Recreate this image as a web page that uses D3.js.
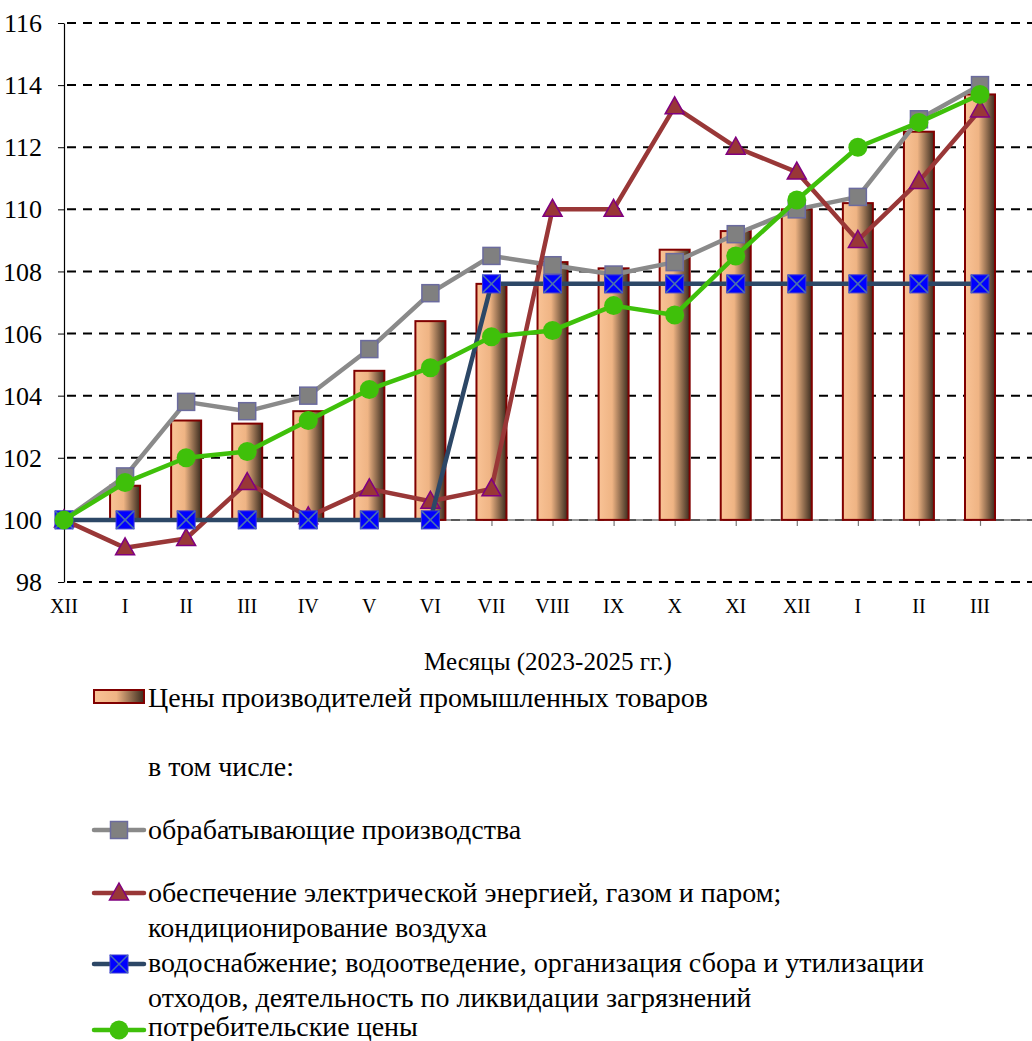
<!DOCTYPE html>
<html>
<head>
<meta charset="utf-8">
<script src="https://cdn.jsdelivr.net/npm/d3@7"></script>
<style>
  body { margin: 0; background: #fff; }
</style>
</head>
<body>
<div id="chart"></div>
<script>
let width = 1032;
let height = 1041;
let serif = "'Liberation Serif', 'Times New Roman', serif";

// months (2023-2025)
let months = ["XII", "I", "II", "III", "IV", "V", "VI", "VII", "VIII", "IX", "X", "XI", "XII", "I", "II", "III"];
let yTicks = [98, 100, 102, 104, 106, 108, 110, 112, 114, 116];

let producers = [100, 101.1, 103.2, 103.1, 103.5, 104.8, 106.4, 107.6, 108.3, 108.1, 108.7, 109.3, 110.0, 110.2, 112.5, 113.7];
let manufacturing = [100, 101.4, 103.8, 103.5, 104.0, 105.5, 107.3, 108.5, 108.2, 107.9, 108.3, 109.2, 110.0, 110.4, 112.9, 114.0];
let energy = [100, 99.1, 99.4, 101.2, 100.1, 101.0, 100.6, 101.0, 110.0, 110.0, 113.3, 112.0, 111.2, 109.0, 110.9, 113.2];
let water = [100, 100, 100, 100, 100, 100, 100, 107.6, 107.6, 107.6, 107.6, 107.6, 107.6, 107.6, 107.6, 107.6];
let consumer = [100, 101.2, 102.0, 102.2, 103.2, 104.2, 104.9, 105.9, 106.1, 106.9, 106.6, 108.5, 110.3, 112.0, 112.8, 113.7];

let svg = d3.select("#chart")
  .append("svg")
  .attr("width", width)
  .attr("height", height)
  .style("font-family", serif);

let defs = svg.append("defs");
let grad = defs.append("linearGradient").attr("id", "barGrad")
  .attr("x1", 0).attr("x2", 1).attr("y1", 0).attr("y2", 0);
grad.append("stop").attr("offset", "0%").attr("stop-color", "#f9c396");
grad.append("stop").attr("offset", "45%").attr("stop-color", "#efb484");
grad.append("stop").attr("offset", "100%").attr("stop-color", "#3a2b1e");

let x = d3.scalePoint()
  .domain(d3.range(months.length))
  .range([64, 980]);

let y = d3.scaleLinear()
  .domain([98, 116])
  .range([582, 23]);

// dashed grid
svg.append("g")
  .selectAll("line")
  .data(yTicks)
  .enter().append("line")
  .attr("x1", 64).attr("x2", width)
  .attr("y1", d => y(d)).attr("y2", d => y(d))
  .attr("stroke", "#000")
  .attr("stroke-width", 2)
  .attr("stroke-dasharray", "9,7")
  .attr("stroke-dashoffset", -3);

// y axis
let yAxis = svg.append("g")
  .attr("transform", "translate(64,0)")
  .call(d3.axisLeft(y).tickValues(yTicks).tickSize(6).tickSizeOuter(0).tickFormat(d3.format("d")));
yAxis.select(".domain").attr("stroke", "#000").attr("stroke-width", 1.2);
yAxis.selectAll(".tick line").attr("stroke", "#000");
yAxis.selectAll("text")
  .attr("x", -22)
  .attr("dy", "0.33em")
  .style("font-size", "26px")
  .style("font-family", serif)
  .attr("fill", "#000");

// x axis crossing at 100
let xAxis = svg.append("g")
  .attr("transform", `translate(0,${y(100)})`)
  .call(d3.axisBottom(x).tickSize(6).tickSizeOuter(0).tickFormat(""));
xAxis.select(".domain").attr("d", `M64,0H${width}`).attr("stroke", "#777").attr("stroke-width", 1.5);
xAxis.selectAll(".tick line").attr("stroke", "#777").attr("stroke-width", 1.2);

// x labels at the bottom
svg.append("g")
  .selectAll("text")
  .data(months)
  .enter().append("text")
  .attr("x", (d, i) => x(i))
  .attr("y", 613)
  .attr("text-anchor", "middle")
  .style("font-family", serif)
  .style("font-size", "20px")
  .text(d => d);

svg.append("text")
  .attr("x", 548).attr("y", 670)
  .attr("text-anchor", "middle")
  .style("font-family", serif)
  .style("font-size", "25px")
  .text("Месяцы (2023-2025 гг.)");

// bars
let barW = 30;
svg.append("g")
  .selectAll("rect")
  .data(producers.map((v, i) => ({ v: v, i: i })).filter(d => d.v > 100))
  .enter().append("rect")
  .attr("x", d => x(d.i) - barW / 2)
  .attr("y", d => y(d.v))
  .attr("width", barW)
  .attr("height", d => y(100) - y(d.v))
  .attr("fill", "url(#barGrad)")
  .attr("stroke", "#800000")
  .attr("stroke-width", 2);

let line = d3.line()
  .x((d, i) => x(i))
  .y(d => y(d));

function drawSeries(values, color, marker) {
  let g = svg.append("g");
  g.append("path")
    .datum(values)
    .attr("d", line)
    .attr("fill", "none")
    .attr("stroke", color)
    .attr("stroke-width", 4.5)
    .attr("stroke-linejoin", "round");
  values.forEach(function (v, i) {
    marker(g, x(i), y(v));
  });
}

function squareGrey(g, cx, cy) {
  g.append("rect")
    .attr("x", cx - 8.5).attr("y", cy - 8.5)
    .attr("width", 17).attr("height", 17)
    .attr("fill", "#808080")
    .attr("stroke", "#6b6b9e")
    .attr("stroke-width", 1.5);
}

function triangle(g, cx, cy) {
  g.append("path")
    .attr("d", `M${cx},${cy - 10}L${cx + 9.5},${cy + 7}L${cx - 9.5},${cy + 7}Z`)
    .attr("fill", "#993737")
    .attr("stroke", "#800080")
    .attr("stroke-width", 1.5);
}

function squareCross(g, cx, cy) {
  g.append("rect")
    .attr("x", cx - 9).attr("y", cy - 9)
    .attr("width", 18).attr("height", 18)
    .attr("fill", "#0000ff")
    .attr("stroke", "#3a3ad0")
    .attr("stroke-width", 1);
  g.append("path")
    .attr("d", `M${cx - 9},${cy - 9}L${cx + 9},${cy + 9}M${cx + 9},${cy - 9}L${cx - 9},${cy + 9}`)
    .attr("stroke", "#4a6fb0")
    .attr("stroke-width", 1.5);
}

function circle(g, cx, cy) {
  g.append("circle")
    .attr("cx", cx).attr("cy", cy).attr("r", 9.5)
    .attr("fill", "#3fc00a");
}

drawSeries(manufacturing, "#8a8a8a", squareGrey);
drawSeries(energy, "#993737", triangle);
drawSeries(water, "#2c4766", squareCross);
drawSeries(consumer, "#3fc00a", circle);

// legend
let leg = svg.append("g");
leg.append("rect")
  .attr("x", 94).attr("y", 690)
  .attr("width", 50).attr("height", 13)
  .attr("fill", "url(#barGrad)")
  .attr("stroke", "#800000")
  .attr("stroke-width", 2);

let legendText = [
  { y: 707, t: "Цены производителей промышленных товаров" },
  { y: 776, t: "в том числе:" },
  { y: 839, t: "обрабатывающие производства" },
  { y: 902, t: "обеспечение электрической энергией, газом и паром;" },
  { y: 937, t: "кондиционирование воздуха" },
  { y: 972, t: "водоснабжение; водоотведение, организация сбора и утилизации" },
  { y: 1007, t: "отходов, деятельность по ликвидации загрязнений" },
  { y: 1036, t: "потребительские цены" }
];
leg.selectAll("text")
  .data(legendText)
  .enter().append("text")
  .attr("x", 148)
  .attr("y", d => d.y)
  .style("font-family", serif)
  .style("font-size", "28px")
  .text(d => d.t);

let legendLines = [
  { y: 830, color: "#8a8a8a", marker: squareGrey },
  { y: 893, color: "#993737", marker: triangle },
  { y: 964, color: "#2c4766", marker: squareCross },
  { y: 1030, color: "#3fc00a", marker: circle }
];
legendLines.forEach(function (d) {
  leg.append("line")
    .attr("x1", 94).attr("x2", 144)
    .attr("y1", d.y).attr("y2", d.y)
    .attr("stroke", d.color)
    .attr("stroke-width", 4.5)
    .attr("stroke-linecap", "round");
  d.marker(leg, 119, d.y);
});
</script>
</body>
</html>
